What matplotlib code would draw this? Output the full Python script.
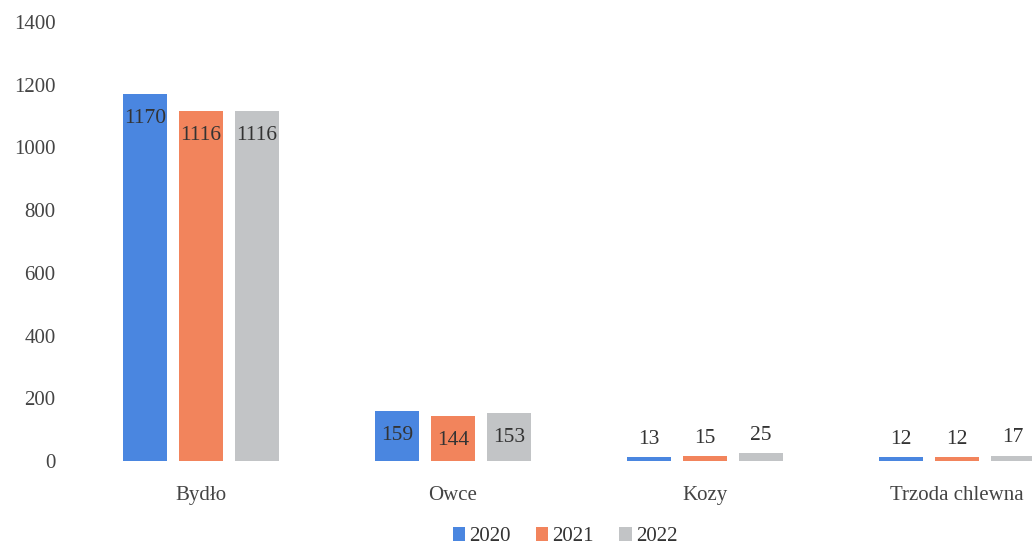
import matplotlib.pyplot as plt
import numpy as np

categories = ['Bydło', 'Owce', 'Kozy', 'Trzoda chlewna']
years = ['2020', '2021', '2022']
values = {
    '2020': [1170, 159, 13, 12],
    '2021': [1116, 144, 15, 12],
    '2022': [1116, 153, 25, 17],
}
colors = ['#4a86e0', '#f2845c', '#c2c4c6']
yticks = [0, 200, 400, 600, 800, 1000, 1200, 1400]

plt.rcParams['font.family'] = 'Liberation Serif'

fig = plt.figure(figsize=(10.32, 5.46), dpi=100)
# plot area runs past the right edge (chart is cropped in the scan)
ax = fig.add_axes([75 / 1032, 85 / 546, 1008 / 1032, 439 / 546])

x = np.arange(len(categories))
width = 0.175
step = 0.222
for i, (yr, c) in enumerate(zip(years, colors)):
    pos = x + (i - 1) * step
    bars = ax.bar(pos, values[yr], width, color=c, label=yr)
    for b, v in zip(bars, values[yr]):
        cx = b.get_x() + b.get_width() / 2
        if v > 100:
            ax.annotate(str(v), (cx, v), xytext=(0, -11), textcoords='offset points',
                        ha='center', va='top', fontsize=15.5, color='#333333')
        else:
            ax.annotate(str(v), (cx, v), xytext=(0, 6), textcoords='offset points',
                        ha='center', va='bottom', fontsize=15.5, color='#333333')

ax.set_xlim(-0.5, len(categories) - 0.5)
ax.set_ylim(0, 1400)
ax.set_yticks(yticks)
ax.set_xticks(x)
ax.set_xticklabels(categories)
ax.tick_params(length=0, labelsize=15, colors='#444444')
ax.tick_params(axis='y', pad=14)
ax.tick_params(axis='x', pad=18)
for s in ax.spines.values():
    s.set_visible(False)

fig.legend(loc='lower center', bbox_to_anchor=(565 / 1032, -0.035), ncol=3, frameon=False,
           fontsize=15, handlelength=0.6, handleheight=0.6, handletextpad=0.2,
           columnspacing=1.2, labelcolor='#333333')

fig.savefig('out.png', dpi=100)
